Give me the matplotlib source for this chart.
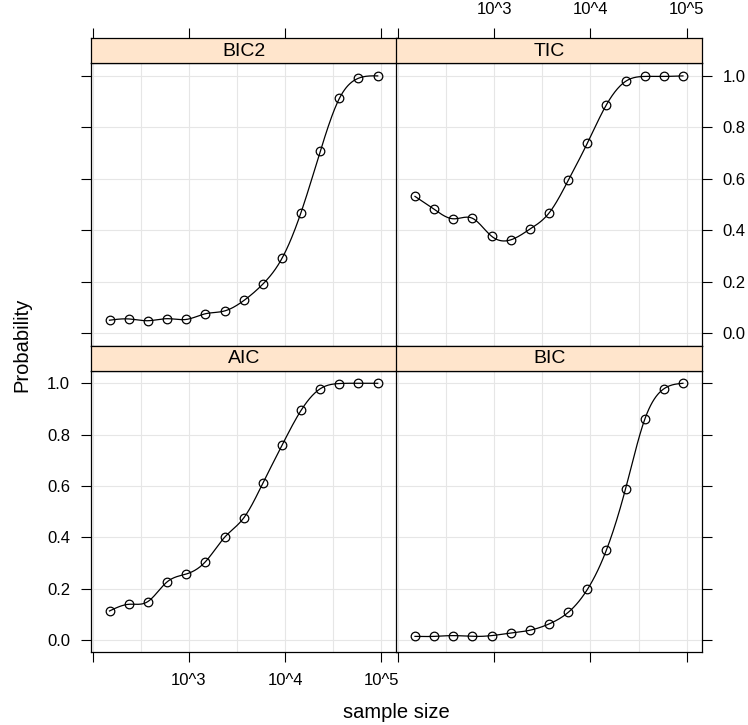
import numpy as np
import matplotlib
matplotlib.use('Agg')
import matplotlib.pyplot as plt
from matplotlib.ticker import FixedLocator, FixedFormatter, NullLocator

plt.rcParams['font.family'] = ['Liberation Sans', 'DejaVu Sans']

# ---- data ----
sample_size = [150, 237, 373, 593, 940, 1480, 2350, 3740, 5890, 9290,
               14600, 23200, 36600, 57700, 91400]
prob_BIC2 = [0.051, 0.056, 0.049, 0.057, 0.054, 0.076, 0.087, 0.128, 0.192,
             0.292, 0.469, 0.708, 0.913, 0.991, 1.000]
prob_TIC = [0.532, 0.482, 0.445, 0.447, 0.377, 0.363, 0.405, 0.469, 0.595,
            0.739, 0.887, 0.979, 0.998, 0.998, 1.000]
prob_AIC = [0.113, 0.139, 0.149, 0.226, 0.257, 0.304, 0.400, 0.477, 0.612,
            0.759, 0.894, 0.979, 0.999, 1.000, 1.000]
prob_BIC = [0.014, 0.014, 0.017, 0.014, 0.017, 0.027, 0.038, 0.063, 0.108,
            0.197, 0.349, 0.590, 0.859, 0.978, 1.000]

panel_names = ['BIC2', 'TIC', 'AIC', 'BIC']
panel_values = [prob_BIC2, prob_TIC, prob_AIC, prob_BIC]

x_ticks = [1e2, 1e3, 1e4, 1e5]
x_tick_labels = ['', '10^3', '10^4', '10^5']
y_ticks = [0.0, 0.2, 0.4, 0.6, 0.8, 1.0]
y_tick_labels = ['0.0', '0.2', '0.4', '0.6', '0.8', '1.0']
x_label = 'sample size'
y_label = 'Probability'


def natural_spline(x, y, n=300):
    x = np.asarray(x, float)
    y = np.asarray(y, float)
    nn = len(x)
    h = np.diff(x)
    A = np.zeros((nn, nn))
    r = np.zeros(nn)
    A[0, 0] = 1
    A[-1, -1] = 1
    for i in range(1, nn - 1):
        A[i, i - 1] = h[i - 1]
        A[i, i] = 2 * (h[i - 1] + h[i])
        A[i, i + 1] = h[i]
        r[i] = 3 * ((y[i + 1] - y[i]) / h[i] - (y[i] - y[i - 1]) / h[i - 1])
    c = np.linalg.solve(A, r)
    b = (y[1:] - y[:-1]) / h - h * (2 * c[:-1] + c[1:]) / 3
    d = (c[1:] - c[:-1]) / (3 * h)
    xs = np.linspace(x[0], x[-1], n)
    idx = np.clip(np.searchsorted(x, xs) - 1, 0, nn - 2)
    dx = xs - x[idx]
    ys = y[idx] + b[idx] * dx + c[idx] * dx ** 2 + d[idx] * dx ** 3
    return xs, ys


W, H = 748, 725
fig = plt.figure(figsize=(W / 100, H / 100), dpi=100)

# layout in pixels
col_x = [(91, 396.5), (396.5, 701.7)]
row_plot = [(63.3, 345.7), (370.7, 652.3)]
row_strip = [(38.3, 63.3), (345.7, 370.7)]

xlim = (10 ** 1.984, 10 ** 5.156)
ylim = (-0.048, 1.049)
grid_x = [10 ** (k / 2) for k in range(4, 11)]

strip_col = '#FFE5CC'
grid_col = '#E6E6E6'
tick_len = 7.0
tick_w = 0.8
tick_pad = 8.0
tick_fs = 12
strip_fs = 14
lab_fs = 14.5


def frac_rect(xr, yr):
    return [xr[0] / W, 1 - yr[1] / H, (xr[1] - xr[0]) / W, (yr[1] - yr[0]) / H]


for k, (name, vals) in enumerate(zip(panel_names, panel_values)):
    r, c = divmod(k, 2)
    ax = fig.add_axes(frac_rect(col_x[c], row_plot[r]))
    sax = fig.add_axes(frac_rect(col_x[c], row_strip[r]))

    for a in (ax, sax):
        a.set_xscale('log')
        a.set_xlim(*xlim)
        a.xaxis.set_minor_locator(NullLocator())
        for sp in a.spines.values():
            sp.set_linewidth(0.9)
            sp.set_color('black')
        a.tick_params(direction='out', length=tick_len, width=tick_w,
                      pad=tick_pad, labelsize=tick_fs, colors='black',
                      top=False, bottom=False, left=False, right=False,
                      labeltop=False, labelbottom=False, labelleft=False,
                      labelright=False)
    ax.set_ylim(*ylim)

    # grid
    for g in grid_x:
        ax.axvline(g, color=grid_col, lw=0.8, zorder=0)
    for g in y_ticks:
        ax.axhline(g, color=grid_col, lw=0.8, zorder=0)

    # data
    lx = np.log10(sample_size)
    xs, ys = natural_spline(lx, vals)
    ax.plot(10 ** xs, ys, color='black', lw=0.9, zorder=3)
    ax.plot(sample_size, vals, linestyle='none', marker='o', ms=6.2,
            mfc='none', mec='black', mew=0.9, zorder=4)

    # strip
    sax.set_facecolor(strip_col)
    sax.set_ylim(0, 1)
    sax.set_yticks([])
    sax.text(0.5, 0.47, name, transform=sax.transAxes, ha='center',
             va='center', fontsize=strip_fs)

    ax.xaxis.set_major_locator(FixedLocator(x_ticks))
    ax.xaxis.set_major_formatter(FixedFormatter(x_tick_labels))
    sax.xaxis.set_major_locator(FixedLocator(x_ticks))
    sax.xaxis.set_major_formatter(FixedFormatter(x_tick_labels))
    ax.yaxis.set_major_locator(FixedLocator(y_ticks))
    ax.yaxis.set_major_formatter(FixedFormatter(y_tick_labels))

    if r == 0:
        sax.tick_params(axis='x', top=True, labeltop=(c == 1))
    else:
        ax.tick_params(axis='x', bottom=True, labelbottom=(c == 0))
    if c == 0:
        ax.tick_params(axis='y', left=True, labelleft=(r == 1))
    else:
        ax.tick_params(axis='y', right=True, labelright=(r == 0))

fig.text(396.5 / W, 1 - 713 / H, x_label, ha='center', va='center',
         fontsize=lab_fs)
fig.text(22 / W, 1 - 345 / H, y_label, ha='center', va='center',
         rotation=90, fontsize=lab_fs)

fig.savefig('out.png', dpi=100)
